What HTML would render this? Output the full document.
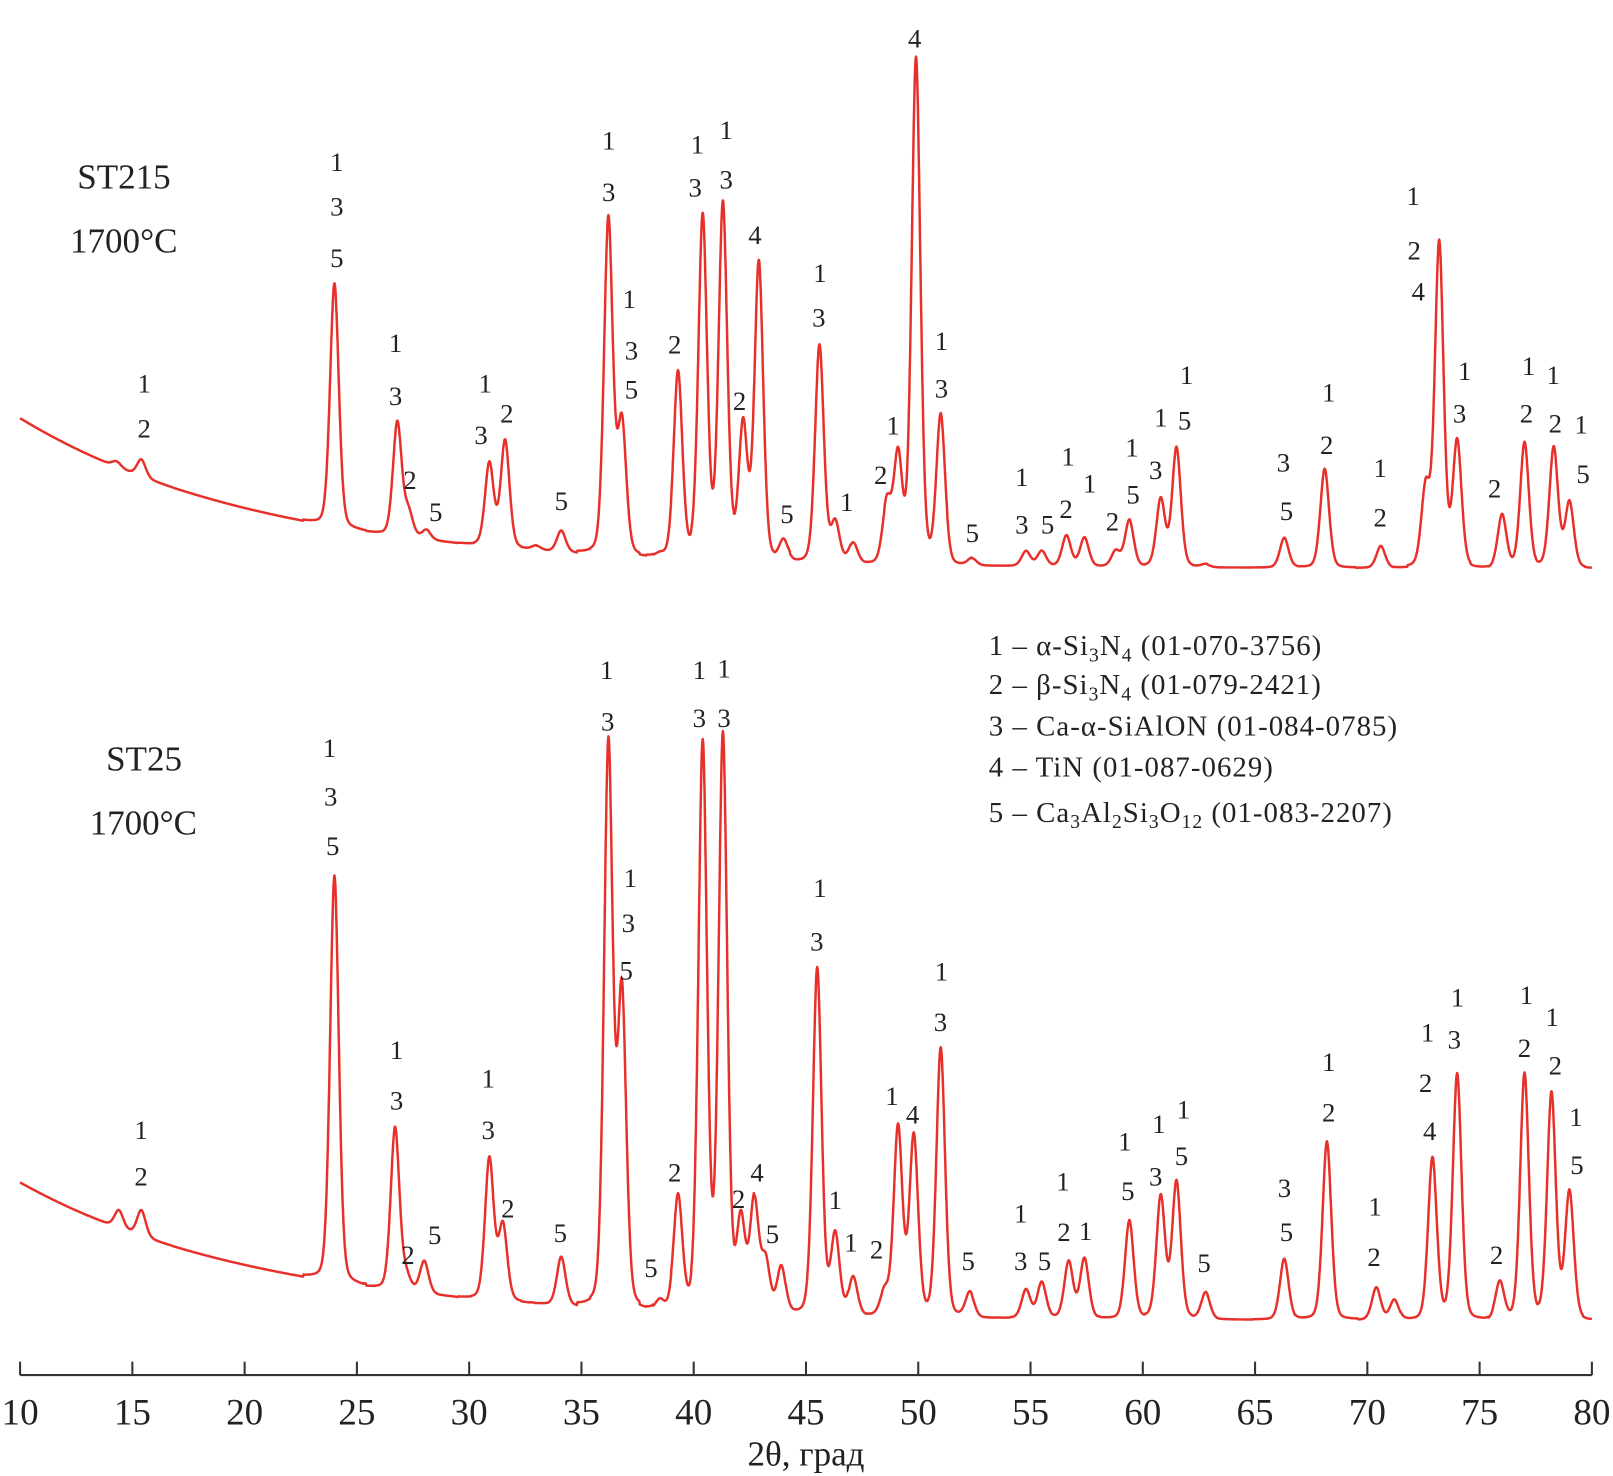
<!DOCTYPE html>
<html><head><meta charset="utf-8"><style>
html,body{margin:0;padding:0;background:#fff;}
svg{display:block;}
text{font-family:"Liberation Serif",serif;fill:#222;}
</style></head><body>
<svg id="chart" width="1613" height="1476" viewBox="0 0 1566 1433" preserveAspectRatio="none" xmlns="http://www.w3.org/2000/svg">
<g id="axis"></g>
<g id="curves"></g>
<g id="labels"></g>
<text x="75" y="183" font-size="34">ST215</text>
<text x="68" y="245" font-size="34">1700°C</text>
<text x="103" y="748" font-size="34">ST25</text>
<text x="87" y="810" font-size="34">1700°C</text>
<g font-size="28" letter-spacing="1">
<text x="960" y="636">1 – α-Si<tspan font-size="19" dy="6">3</tspan><tspan dy="-6">N</tspan><tspan font-size="19" dy="6">4</tspan><tspan dy="-6"> (01-070-3756)</tspan></text>
<text x="960" y="674">2 – β-Si<tspan font-size="19" dy="6">3</tspan><tspan dy="-6">N</tspan><tspan font-size="19" dy="6">4</tspan><tspan dy="-6"> (01-079-2421)</tspan></text>
<text x="960" y="714">3 – Ca-α-SiAlON (01-084-0785)</text>
<text x="960" y="754">4 – TiN (01-087-0629)</text>
<text x="960" y="798">5 – Ca<tspan font-size="19" dy="6">3</tspan><tspan dy="-6">Al</tspan><tspan font-size="19" dy="6">2</tspan><tspan dy="-6">Si</tspan><tspan font-size="19" dy="6">3</tspan><tspan dy="-6">O</tspan><tspan font-size="19" dy="6">12</tspan><tspan dy="-6"> (01-083-2207)</tspan></text>
</g>
</svg>
<script>
const xTicks=[10,15,20,25,30,35,40,45,50,55,60,65,70,75,80];
const topPos=[14.3,15.4,24.0,26.8,27.3,28.1,30.9,31.6,33.0,34.1,36.2,36.8,38.5,39.3,40.4,41.3,42.2,42.9,44.0,45.6,46.3,47.1,48.6,49.1,49.9,51.0,52.4,54.8,55.5,56.6,57.4,58.8,59.4,60.8,61.5,62.8,66.3,68.1,70.6,72.6,73.2,74.0,76.0,77.0,78.3,79.0];
const topInt=[112,114,285,150,62,45,110,132,30,45,347,148,22,198,348,360,145,305,35,225,52,33,70,115,502,155,18,25,25,40,38,25,55,75,125,12,38,105,30,85,323,130,60,130,125,72];
const botPos=[14.4,15.4,24.0,26.7,27.2,28.0,30.9,31.5,34.1,36.2,36.8,38.5,39.3,40.4,41.3,42.1,42.7,43.2,43.9,45.5,46.3,47.1,48.5,49.1,49.8,51.0,52.3,54.8,55.5,56.7,57.4,59.4,60.8,61.5,62.8,66.3,68.2,70.4,71.2,72.9,74.0,75.9,77.0,78.2,79.0];
const botInt=[125,125,450,205,60,75,175,110,80,575,332,38,137,575,582,113,133,75,70,360,100,60,45,205,195,282,45,48,55,75,78,115,138,152,45,78,192,50,38,175,257,55,257,237,142];
const X0=19.5,X1=1545.5,AY=1335;
const xs=v=>X0+(v-10)*(X1-X0)/70;
const NS='http://www.w3.org/2000/svg';
function mk(t,a,p){const e=document.createElementNS(NS,t);for(const k in a)e.setAttribute(k,a[k]);p.appendChild(e);return e;}
const ax=document.getElementById('axis');
const al=mk('line',{x1:X0,y1:AY,x2:X1,y2:AY,stroke:'#333','stroke-width':2},ax);


xTicks.forEach(t=>{
 const l=mk('line',{x1:xs(t),y1:AY,x2:xs(t),y2:AY-13,stroke:'#333','stroke-width':2},ax);
 
 
 const tx=mk('text',{x:xs(t),y:AY+48,'font-size':36,'text-anchor':'middle'},ax);
 tx.textContent=t;
 
 
});
const at=mk('text',{x:xs(45),y:AY+88,'font-size':34,'text-anchor':'middle'},ax);
at.textContent='2θ, град';


function curve(pos,ints,ref,base,name){
 const s=0.2;let d='';
 const hs=pos.map((p,i)=>Math.max(0,ints[i]-(ref-base(p))));
 for(let x=10;x<=80.001;x+=0.02){
  let y=base(x);
  for(let i=0;i<pos.length;i++){const dx=(x-pos[i])/s;if(Math.abs(dx)<7){y-=hs[i]*(0.75*Math.exp(-dx*dx/2)+0.25/(1+dx*dx));}}
  d+=(d?'L':'M')+xs(x).toFixed(1)+' '+y.toFixed(1);
 }
 const p=mk('path',{d:d,fill:'none',stroke:'#e8302a','stroke-width':2.4,'stroke-linejoin':'round'},document.getElementById('curves'));
 
 
}
curve(topPos,topInt,560,x=>552-146*Math.exp(-(x-10)/11),'pattern-st215');
curve(botPos,botInt,1300,x=>1282-134*Math.exp(-(x-10)/11),'pattern-st25');
const L=[[140,372,1],[140,416,2],[327,157,1],[327,200,3],[327,250,5],[384,333,1],[384,384,3],[398,466,2],[423,497,5],[471,372,1],[467,422,3],[492,401,2],[545,486,5],[591,136,1],[591,186,3],[611,290,1],[613,340,3],[613,378,5],[655,334,2],[677,140,1],[675,182,3],[705,126,1],[705,174,3],[733,228,4],[718,389,2],[764,499,5],[796,265,1],[795,308,3],[822,487,1],[888,37,4],[867,413,1],[855,461,2],[914,331,1],[914,377,3],[944,517,5],[992,463,1],[992,509,3],[1017,509,5],[1037,443,1],[1035,494,2],[1058,469,1],[1080,506,2],[1099,434,1],[1100,480,5],[1127,405,1],[1122,456,3],[1152,364,1],[1150,408,5],[1246,449,3],[1249,496,5],[1290,381,1],[1288,432,2],[1340,454,1],[1340,502,2],[1372,190,1],[1373,243,2],[1377,283,4],[1422,360,1],[1417,401,3],[1451,474,2],[1484,355,1],[1482,401,2],[1508,364,1],[1510,411,2],[1535,412,1],[1537,460,5],
[137,1097,1],[137,1142,2],[320,726,1],[321,773,3],[323,821,5],[385,1019,1],[385,1068,3],[396,1218,2],[422,1199,5],[474,1047,1],[474,1097,3],[493,1173,2],[544,1197,5],[589,650,1],[590,700,3],[612,852,1],[610,896,3],[608,942,5],[632,1231,5],[655,1138,2],[679,650,1],[679,697,3],[703,649,1],[703,697,3],[717,1164,2],[735,1138,4],[750,1198,5],[796,862,1],[793,914,3],[811,1165,1],[826,1206,1],[851,1213,2],[866,1064,1],[886,1082,4],[914,943,1],[913,992,3],[940,1224,5],[991,1178,1],[991,1224,3],[1014,1224,5],[1032,1147,1],[1033,1196,2],[1054,1195,1],[1092,1108,1],[1095,1156,5],[1125,1091,1],[1122,1142,3],[1149,1077,1],[1147,1122,5],[1169,1226,5],[1247,1153,3],[1249,1196,5],[1290,1031,1],[1290,1080,2],[1335,1171,1],[1334,1220,2],[1386,1002,1],[1384,1051,2],[1388,1098,4],[1415,968,1],[1412,1009,3],[1453,1218,2],[1482,966,1],[1480,1017,2],[1507,987,1],[1510,1034,2],[1530,1084,1],[1531,1131,5]];
const lg=document.getElementById('labels');
L.forEach(a=>{
 const t=mk('text',{x:a[0],y:a[1]+9,'font-size':26,'text-anchor':'middle'},lg);
 t.textContent=a[2];
 
 
});
</script>
</body></html>
